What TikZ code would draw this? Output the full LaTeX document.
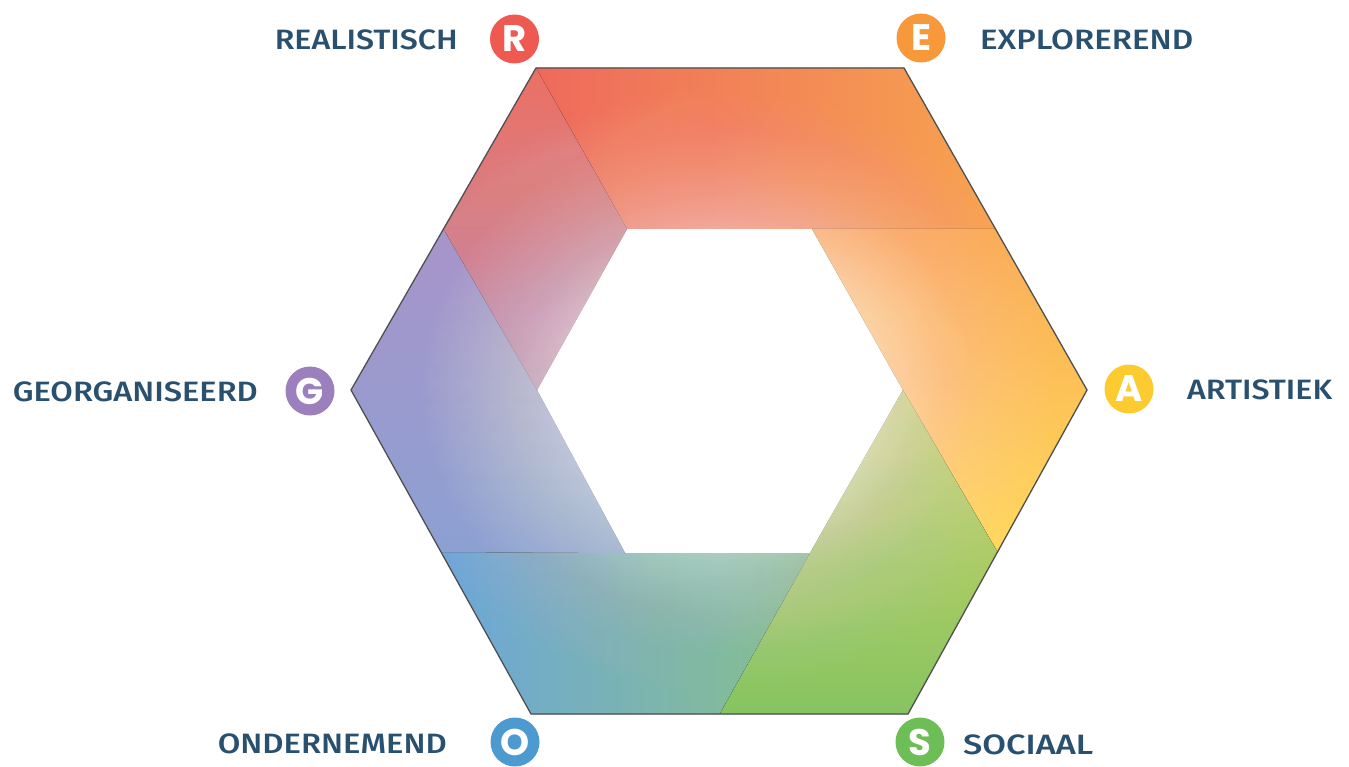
\documentclass[tikz,border=0pt]{standalone}
\usepackage{fontspec}
\usepackage{graphicx}
\usetikzlibrary{calc}
\newfontfamily\labfont{Fira Sans Medium}
\newfontfamily\badgefont{Poppins}
\definecolor{labcol}{HTML}{29506F}
\definecolor{rcol}{HTML}{EE5A52}
\definecolor{ecol}{HTML}{F7983A}
\definecolor{acol}{HTML}{FCCB30}
\definecolor{gcol}{HTML}{9B80BD}
\definecolor{ocol}{HTML}{4D9AD0}
\definecolor{scol}{HTML}{6DBE56}
\definecolor{edgecol}{HTML}{505050}
\begin{document}
\begin{tikzpicture}[x=1pt,y=-1pt,
  lab/.style={font=\labfont\fontsize{28}{28}\selectfont, text=labcol, inner sep=0pt},
  badge/.style={circle, minimum size=49pt, inner sep=0pt, text=white,
    font=\badgefont\bfseries\fontsize{37}{37}\selectfont},
  outline/.style={draw=edgecol, line width=1.3pt, line join=miter}
]
\useasboundingbox (0,0) rectangle (1349,767);
% centre
\coordinate (C) at (719,391);
% outer hexagon
\coordinate (R) at (536,68);
\coordinate (E) at (904,68);
\coordinate (A) at (1087,390);
\coordinate (S) at (908,714);
\coordinate (O) at (531,714);
\coordinate (G) at (351,390);
% inner hexagon
\coordinate (iTL) at (627,229);
\coordinate (iTR) at (812,229);
\coordinate (iR) at (903,390);
\coordinate (iBR) at (810,553);
\coordinate (iBL) at (625,553);
\coordinate (iL) at (537,390);
% midpoints of outer edges
\coordinate (mEA) at ($(E)!0.5!(A)$);
\coordinate (mAS) at ($(A)!0.5!(S)$);
\coordinate (mSO) at ($(S)!0.5!(O)$);
\coordinate (mOG) at ($(O)!0.5!(G)$);
\coordinate (mGR) at ($(G)!0.5!(R)$);
% bands
\fill[left color={rgb,255:red,238;green,106;blue,92}, right color={rgb,255:red,247;green,163;blue,80}]
  (R) -- (E) -- (mEA) -- (iTR) -- (iTL) -- cycle;
\fill[top color={rgb,255:red,250;green,172;blue,84}, bottom color={rgb,255:red,255;green,216;blue,90}]
  (mEA) -- (A) -- (mAS) -- (iR) -- (iTR) -- cycle;
\fill[top color={rgb,255:red,214;green,212;blue,100}, bottom color={rgb,255:red,134;green,196;blue,97}]
  (mAS) -- (S) -- (mSO) -- (iBR) -- (iR) -- cycle;
\fill[left color={rgb,255:red,108;green,166;blue,217}, right color={rgb,255:red,136;green,192;blue,140}]
  (mSO) -- (O) -- (mOG) -- (iBL) -- (iBR) -- cycle;
\fill[top color={rgb,255:red,168;green,148;blue,202}, bottom color={rgb,255:red,140;green,160;blue,210}]
  (mOG) -- (G) -- (mGR) -- (iL) -- (iBL) -- cycle;
\fill[top color={rgb,255:red,236;green,112;blue,99}, bottom color={rgb,255:red,190;green,140;blue,176}]
  (mGR) -- (R) -- (iTL) -- (iL) -- cycle;
% white glow towards the centre: nested ellipses of small opacity, clipped to the hexagon
\begin{scope}
  \clip (R) -- (E) -- (A) -- (S) -- (O) -- (G) -- cycle;
  \foreach \j in {1,...,60}{
    \pgfmathsetmacro\ta{1-0.55*(\j-1)/60}
    \pgfmathsetmacro\tb{1-0.55*\j/60}
    \pgfmathsetmacro\wa{0.5*pow(max(0,(1-\ta)/0.5),1.4)}
    \pgfmathsetmacro\wb{0.5*pow(max(0,(1-\tb)/0.5),1.4)}
    \pgfmathsetmacro\op{1-(1-\wb)/(1-\wa)}
    \pgfmathsetmacro\rx{368*\tb}
    \pgfmathsetmacro\ry{323*\tb}
    \fill[white, fill opacity=\op] (C) ellipse [x radius=\rx, y radius=\ry];
  }
\end{scope}
% outline
\draw[outline] (R) -- (E) -- (A) -- (S) -- (O) -- (G) -- cycle;
% badges
\node[badge, fill=rcol] (bR) at (514.5,39) {R};
\node[badge, fill=ecol] (bE) at (921,38) {E};
\node[badge, fill=acol] (bA) at (1129,389) {A};
\node[badge, fill=scol] (bS) at (920,742) {S};
\node[badge, fill=ocol] (bO) at (515,742) {O};
\node[badge, fill=gcol] (bG) at (310,391) {G};
% labels
\node[lab, anchor=east] (tR) at (458,39.5) {\resizebox{183pt}{\height}{REALISTISCH}};
\node[lab, anchor=west] (tE) at (980,39.7) {\resizebox{213pt}{\height}{EXPLOREREND}};
\node[lab, anchor=east] (tG) at (258,391.7) {\resizebox{245pt}{\height}{GEORGANISEERD}};
\node[lab, anchor=west] (tA) at (1187,389.7) {\resizebox{145pt}{\height}{ARTISTIEK}};
\node[lab, anchor=east] (tO) at (447,744) {\resizebox{229pt}{\height}{ONDERNEMEND}};
\node[lab, anchor=west] (tS) at (963,745) {\resizebox{130pt}{\height}{SOCIAAL}};
\end{tikzpicture}
\end{document}
